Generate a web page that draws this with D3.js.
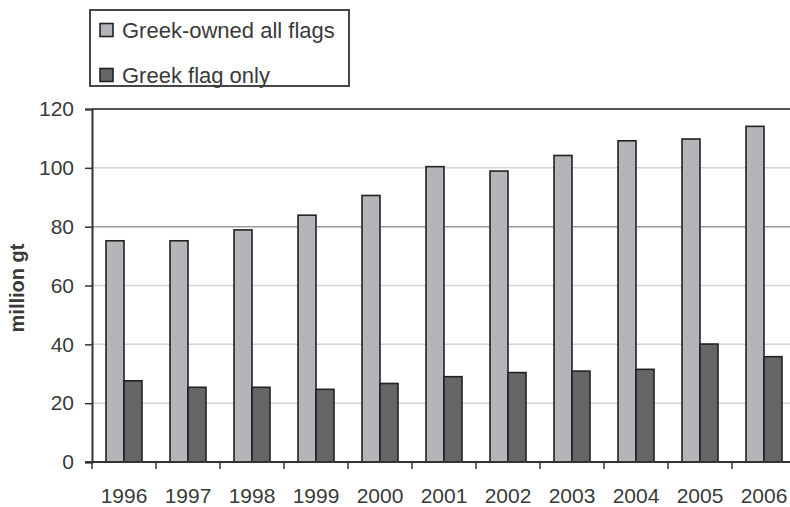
<!DOCTYPE html>
<html>
<head>
<meta charset="utf-8">
<script src="https://cdnjs.cloudflare.com/ajax/libs/d3/7.8.5/d3.min.js"></script>
<style>
  html, body { margin: 0; padding: 0; background: #fff; }
  svg { display: block; }
  text { font-family: "Liberation Sans", Arial, sans-serif; fill: #3a3a3a; }
</style>
</head>
<body>
<svg id="chart" width="790" height="507"></svg>
<script>
const years = ["1996","1997","1998","1999","2000","2001","2002","2003","2004","2005","2006"];
const allFlags = [75.2, 75.2, 78.9, 83.9, 90.6, 100.4, 98.9, 104.2, 109.2, 109.8, 114.1];
const greekFlag = [27.6, 25.4, 25.4, 24.7, 26.7, 29.0, 30.4, 30.9, 31.5, 40.1, 35.8];
const seriesNames = ["Greek-owned all flags", "Greek flag only"];
const yTicks = [0, 20, 40, 60, 80, 100, 120];
const yTitle = "million gt";

(function () {
const colors = ["#b4b5b9", "#666666"];
const svg = d3.select("#chart");
const pL = 92, pR = 796, pT = 109, pB = 462;

const x = d3.scaleBand().domain(years).range([pL, pR]).paddingInner(0.4375).paddingOuter(0.21875);
const xOuter = d3.scaleBand().domain(years).range([pL, pR]).padding(0);
const sub = d3.scaleBand().domain([0, 1]).range([0, x.bandwidth()]);
const y = d3.scaleLinear().domain([0, 120]).range([pB, pT]);

// gridlines
svg.append("g").selectAll("line").data(yTicks.filter(t => t > 0 && t < 120)).join("line")
  .attr("x1", pL).attr("x2", pR)
  .attr("y1", d => y(d)).attr("y2", d => y(d))
  .attr("stroke", d => d === 80 ? "#9a9a9a" : "#d4d4d4")
  .attr("stroke-width", 1.5);

// top border
svg.append("line").attr("x1", pL).attr("x2", pR).attr("y1", y(120)).attr("y2", y(120))
  .attr("stroke", "#555").attr("stroke-width", 2);

// bars
const rows = years.map((yr, i) => ({ yr, vals: [allFlags[i], greekFlag[i]] }));
const grp = svg.append("g").selectAll("g").data(rows).join("g")
  .attr("transform", d => `translate(${x(d.yr)},0)`);
grp.selectAll("rect").data(d => d.vals.map((v, k) => ({ v, k }))).join("rect")
  .attr("x", d => sub(d.k))
  .attr("width", sub.bandwidth())
  .attr("y", d => y(d.v))
  .attr("height", d => y(0) - y(d.v))
  .attr("fill", d => colors[d.k])
  .attr("stroke", "#222")
  .attr("stroke-width", 1.6);

// y axis
const yAxis = svg.append("g").attr("transform", `translate(${pL},0)`)
  .call(d3.axisLeft(y).tickValues(yTicks).tickSize(7).tickPadding(11).tickFormat(d3.format("d")));
yAxis.select(".domain").attr("stroke", "#333").attr("stroke-width", 2);
yAxis.selectAll(".tick line").attr("stroke", "#333").attr("stroke-width", 1.5);
yAxis.selectAll(".tick text").attr("font-size", 21).attr("fill", "#3a3a3a")
  .style("font-family", "Liberation Sans, Arial, sans-serif");

// x axis
const xAxis = svg.append("g").attr("transform", `translate(0,${pB})`);
xAxis.append("line").attr("x1", pL - 7).attr("x2", pR).attr("y1", 0).attr("y2", 0)
  .attr("stroke", "#333").attr("stroke-width", 2);
xAxis.selectAll("line.tk").data(years).join("line").attr("class", "tk")
  .attr("x1", d => xOuter(d)).attr("x2", d => xOuter(d))
  .attr("y1", 0).attr("y2", 7).attr("stroke", "#333").attr("stroke-width", 1.5);
xAxis.selectAll("text").data(years).join("text")
  .attr("x", d => xOuter(d) + xOuter.bandwidth() / 2)
  .attr("y", 41)
  .attr("text-anchor", "middle")
  .attr("font-size", 21)
  .text(d => d);

// y title
svg.append("text")
  .attr("transform", `translate(24,288) rotate(-90)`)
  .attr("text-anchor", "middle")
  .attr("font-size", 20)
  .attr("font-weight", "bold")
  .attr("fill", "#2a2a2a")
  .text(yTitle);

// legend
const lg = svg.append("g");
lg.append("rect").attr("x", 90).attr("y", 10).attr("width", 259).attr("height", 76)
  .attr("fill", "#fff").attr("stroke", "#333").attr("stroke-width", 1.8);
seriesNames.forEach((name, i) => {
  const cy = 30 + i * 45;
  lg.append("rect").attr("x", 100).attr("y", cy - 6.5).attr("width", 13).attr("height", 13)
    .attr("fill", colors[i]).attr("stroke", "#222").attr("stroke-width", 1.6);
  lg.append("text").attr("x", 122).attr("y", cy + 8).attr("font-size", 22).text(name);
});
})();
</script>
</body>
</html>
